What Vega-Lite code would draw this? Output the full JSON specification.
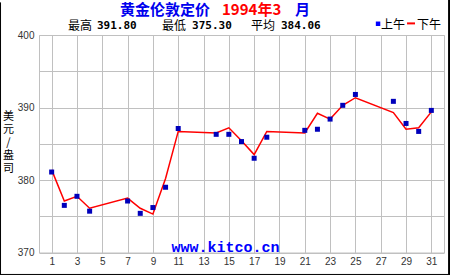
{
  "$schema": "https://vega.github.io/schema/vega-lite/v6.json",
  "autosize": "none",
  "width": 405,
  "height": 217.5,
  "padding": {"left": 39, "top": 35, "right": 6, "bottom": 22.5},
  "background": "#FFFFFF",
  "config": {
    "view": {"stroke": "#C0C0C0", "strokeWidth": 1},
    "font": "Liberation Sans",
    "axis": {"gridColor": "#C0C0C0", "gridOpacity": 1, "gridWidth": 1, "domain": false, "ticks": false, "labelColor": "#333333", "labelFontSize": 10, "labelFont": "Liberation Sans", "labelOverlap": false}
  },
  "data": {"values": [
    {"day": 1, "am": 381.1, "pm": 381.4},
    {"day": 2, "am": 376.5, "pm": 377.1},
    {"day": 3, "am": 377.75, "pm": 377.75},
    {"day": 4, "am": 375.7, "pm": 376.1},
    {"day": 7, "am": 377.1, "pm": 377.5},
    {"day": 8, "am": 375.4, "pm": 376.1},
    {"day": 9, "am": 376.2, "pm": 375.3},
    {"day": 10, "am": 379.0, "pm": 380.2},
    {"day": 11, "am": 387.1, "pm": 386.7},
    {"day": 14, "am": 386.3, "pm": 386.5},
    {"day": 15, "am": 386.3, "pm": 387.2},
    {"day": 16, "am": 385.3, "pm": 385.4},
    {"day": 17, "am": 383.0, "pm": 383.5},
    {"day": 18, "am": 385.9, "pm": 386.7},
    {"day": 21, "am": 386.85, "pm": 386.5},
    {"day": 22, "am": 387.0, "pm": 389.2},
    {"day": 23, "am": 388.4, "pm": 388.4},
    {"day": 24, "am": 390.3, "pm": 390.3},
    {"day": 25, "am": 391.8, "pm": 391.35},
    {"day": 28, "am": 390.85, "pm": 389.3},
    {"day": 29, "am": 387.8, "pm": 387.0},
    {"day": 30, "am": 386.7, "pm": 387.2},
    {"day": 31, "am": 389.6, "pm": 389.4}
  ]},
  "layer": [
    {
      "mark": {"type": "line", "color": "#FF0000", "strokeWidth": 1.5},
      "encoding": {
        "x": {"field": "day", "type": "quantitative", "scale": {"domain": [0, 32], "nice": false, "zero": false},
              "axis": {"title": null, "values": [1,3,5,7,9,11,13,15,17,19,21,23,25,27,29,31], "tickCount": 40, "labelPadding": 4, "labelFlush": false, "labelOverlap": false}},
        "y": {"field": "pm", "type": "quantitative", "scale": {"domain": [370, 400], "nice": false, "zero": false},
              "axis": {"values": [370,375,380,385,390,395,400], "tickCount": 40, "labelExpr": "datum.value % 10 == 0 ? datum.label : ''", "labelPadding": 5, "labelFlush": false,
                       "title": ["美","元","/","盎","司"], "titleAngle": 0, "titleX": -31, "titleY": 75, "titleAlign": "center", "titleBaseline": "top",
                       "titleFont": "Noto Sans CJK SC", "titleFontSize": 11, "titleFontWeight": "normal", "titleLineHeight": 13, "titleColor": "#000000"}}
      }
    },
    {
      "mark": {"type": "point", "shape": "square", "filled": true, "size": 25, "color": "#0000BB", "opacity": 1},
      "encoding": {
        "x": {"field": "day", "type": "quantitative"},
        "y": {"field": "am", "type": "quantitative"}
      }
    },
    {
      "data": {"values": [{}]},
      "mark": {"type": "text", "align": "left", "baseline": "middle", "font": "Noto Sans CJK SC", "fontSize": 15, "fontWeight": "bold", "color": "#0000EE", "text": "黄金伦敦定价"},
      "encoding": {"x": {"datum": 6.40, "type": "quantitative"}, "y": {"datum": 403.4, "type": "quantitative"}}
    },
    {
      "data": {"values": [{}]},
      "mark": {"type": "text", "align": "left", "baseline": "middle", "font": "Noto Sans CJK SC", "fontSize": 15, "fontWeight": "bold", "color": "#FF0000", "text": "1994年3"},
      "encoding": {"x": {"datum": 14.46, "type": "quantitative"}, "y": {"datum": 403.4, "type": "quantitative"}}
    },
    {
      "data": {"values": [{}]},
      "mark": {"type": "text", "align": "left", "baseline": "middle", "font": "Noto Sans CJK SC", "fontSize": 15, "fontWeight": "bold", "color": "#0000EE", "text": "月"},
      "encoding": {"x": {"datum": 20.23, "type": "quantitative"}, "y": {"datum": 403.4, "type": "quantitative"}}
    },
    {
      "data": {"values": [{}]},
      "mark": {"type": "text", "align": "left", "baseline": "middle", "font": "Noto Sans CJK SC", "fontSize": 12, "color": "#000000", "text": "最高"},
      "encoding": {"x": {"datum": 2.29, "type": "quantitative"}, "y": {"datum": 401.2, "type": "quantitative"}}
    },
    {
      "data": {"values": [{}]},
      "mark": {"type": "text", "align": "left", "baseline": "middle", "font": "DejaVu Sans Mono", "fontSize": 11, "fontWeight": "bold", "color": "#000000", "text": "391.80"},
      "encoding": {"x": {"datum": 4.58, "type": "quantitative"}, "y": {"datum": 401.2, "type": "quantitative"}}
    },
    {
      "data": {"values": [{}]},
      "mark": {"type": "text", "align": "left", "baseline": "middle", "font": "Noto Sans CJK SC", "fontSize": 12, "color": "#000000", "text": "最低"},
      "encoding": {"x": {"datum": 9.72, "type": "quantitative"}, "y": {"datum": 401.2, "type": "quantitative"}}
    },
    {
      "data": {"values": [{}]},
      "mark": {"type": "text", "align": "left", "baseline": "middle", "font": "DejaVu Sans Mono", "fontSize": 11, "fontWeight": "bold", "color": "#000000", "text": "375.30"},
      "encoding": {"x": {"datum": 12.09, "type": "quantitative"}, "y": {"datum": 401.2, "type": "quantitative"}}
    },
    {
      "data": {"values": [{}]},
      "mark": {"type": "text", "align": "left", "baseline": "middle", "font": "Noto Sans CJK SC", "fontSize": 12, "color": "#000000", "text": "平均"},
      "encoding": {"x": {"datum": 16.75, "type": "quantitative"}, "y": {"datum": 401.2, "type": "quantitative"}}
    },
    {
      "data": {"values": [{}]},
      "mark": {"type": "text", "align": "left", "baseline": "middle", "font": "DejaVu Sans Mono", "fontSize": 11, "fontWeight": "bold", "color": "#000000", "text": "384.06"},
      "encoding": {"x": {"datum": 19.12, "type": "quantitative"}, "y": {"datum": 401.2, "type": "quantitative"}}
    },
    {
      "data": {"values": [{}]},
      "mark": {"type": "point", "shape": "square", "filled": true, "size": 20, "color": "#0000FF", "opacity": 1},
      "encoding": {"x": {"datum": 26.79, "type": "quantitative"}, "y": {"datum": 401.55, "type": "quantitative"}}
    },
    {
      "data": {"values": [{}]},
      "mark": {"type": "text", "align": "left", "baseline": "middle", "font": "Noto Sans CJK SC", "fontSize": 12, "color": "#000000", "text": "上午"},
      "encoding": {"x": {"datum": 27.02, "type": "quantitative"}, "y": {"datum": 401.4, "type": "quantitative"}}
    },
    {
      "data": {"values": [{}]},
      "mark": {"type": "rule", "color": "#FF0000", "strokeWidth": 2},
      "encoding": {"x": {"datum": 29.08, "type": "quantitative"}, "x2": {"datum": 29.71}, "y": {"datum": 401.6, "type": "quantitative"}}
    },
    {
      "data": {"values": [{}]},
      "mark": {"type": "text", "align": "left", "baseline": "middle", "font": "Noto Sans CJK SC", "fontSize": 12, "color": "#000000", "text": "下午"},
      "encoding": {"x": {"datum": 29.87, "type": "quantitative"}, "y": {"datum": 401.4, "type": "quantitative"}}
    },
    {
      "data": {"values": [{}]},
      "mark": {"type": "text", "align": "center", "baseline": "middle", "font": "Liberation Mono", "fontSize": 15, "fontWeight": "bold", "color": "#0000FF", "text": "www.kitco.cn"},
      "encoding": {"x": {"datum": 14.73, "type": "quantitative"}, "y": {"datum": 370.76, "type": "quantitative"}}
    },
    {
      "data": {"values": [{}]},
      "mark": {"type": "rule", "color": "#000000", "strokeWidth": 1},
      "encoding": {"x": {"datum": -3.04, "type": "quantitative"}, "y": {"datum": 404.5, "type": "quantitative"}, "y2": {"datum": 366.97}}
    },
    {
      "data": {"values": [{}]},
      "mark": {"type": "rule", "color": "#000000", "strokeWidth": 2},
      "encoding": {"x": {"datum": 32.40, "type": "quantitative"}, "y": {"datum": 404.9, "type": "quantitative"}, "y2": {"datum": 366.97}}
    },
    {
      "data": {"values": [{}]},
      "mark": {"type": "rule", "color": "#000000", "strokeWidth": 1},
      "encoding": {"x": {"datum": -3.1, "type": "quantitative"}, "x2": {"datum": 32.5}, "y": {"datum": 366.97, "type": "quantitative"}}
    }
  ]
}
